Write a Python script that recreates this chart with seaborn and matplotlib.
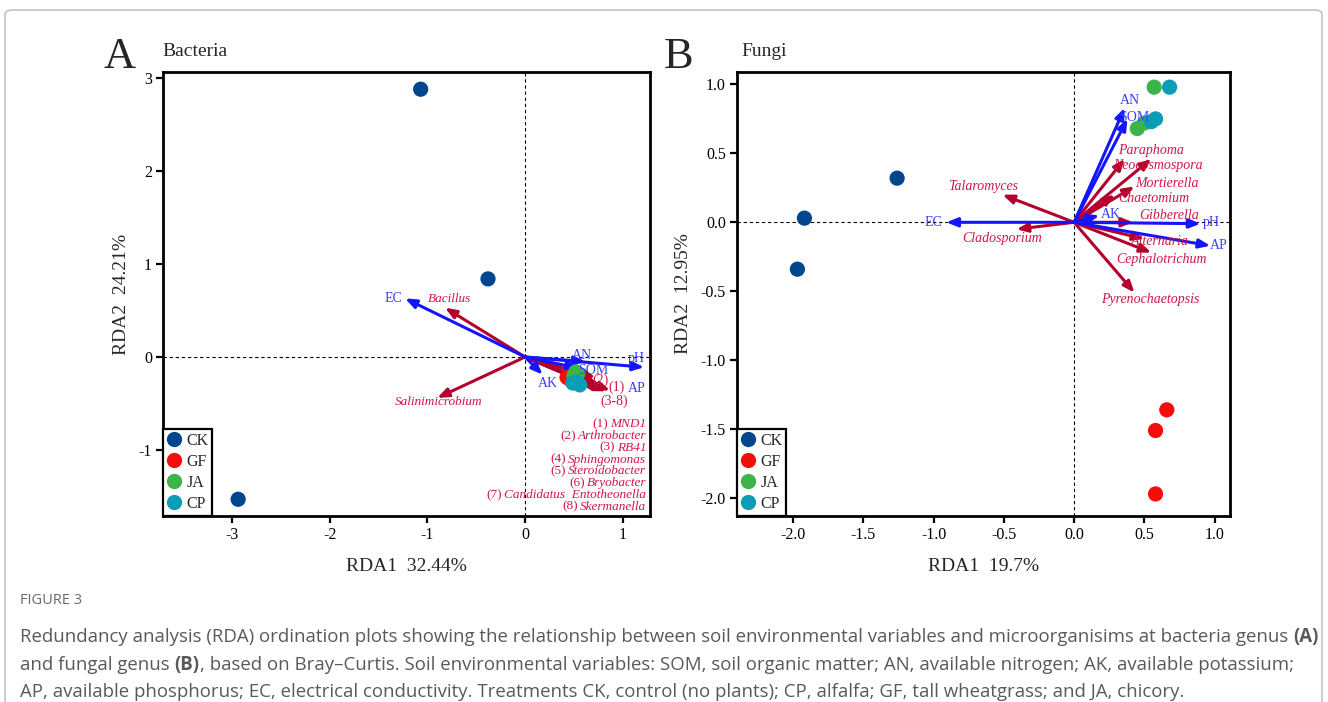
import numpy as np
import pandas as pd
import matplotlib
matplotlib.use("Agg")
import matplotlib.pyplot as plt
from matplotlib.lines import Line2D
from matplotlib.patches import FancyBboxPatch
import seaborn as sns

# ---------------- data: bacteria (panel A) ----------------
groups = ["CK", "GF", "JA", "CP"]
bact_x = {
    "CK": [-1.07, -0.38, -2.94],
    "GF": [0.43, 0.46, 0.49],
    "JA": [0.52, 0.54, 0.50],
    "CP": [0.49, 0.53, 0.56],
}
bact_y = {
    "CK": [2.88, 0.84, -1.53],
    "GF": [-0.22, -0.24, -0.26],
    "JA": [-0.16, -0.18, -0.20],
    "CP": [-0.28, -0.27, -0.30],
}
bact_env = ["EC", "AN", "pH", "AP", "AK", "SOM"]
bact_env_x = [-1.23, 0.62, 1.22, 1.30, 0.18, 0.55]
bact_env_y = [0.63, -0.05, -0.11, -0.26, -0.19, -0.12]
bact_taxa = ["Bacillus", "Salinimicrobium", "MND1", "Arthrobacter", "RB41",
             "Sphingomonas", "Steroidobacter", "Bryobacter",
             "Candidatus  Entotheonella", "Skermanella"]
bact_taxa_x = [-0.82, -0.90, 0.87, 0.72, 0.82, 0.78, 0.80, 0.75, 0.83, 0.79]
bact_taxa_y = [0.53, -0.44, -0.36, -0.22, -0.36, -0.33, -0.35, -0.30, -0.37, -0.34]

# ---------------- data: fungi (panel B) ----------------
fung_x = {
    "CK": [-1.92, -1.26, -1.97],
    "GF": [0.66, 0.58, 0.58],
    "JA": [0.57, 0.45, 0.50],
    "CP": [0.68, 0.58, 0.55],
}
fung_y = {
    "CK": [0.03, 0.32, -0.34],
    "GF": [-1.36, -1.51, -1.97],
    "JA": [0.98, 0.68, 0.72],
    "CP": [0.98, 0.75, 0.73],
}
fung_env = ["EC", "AN", "SOM", "AK", "pH", "AP"]
fung_env_x = [-0.91, 0.36, 0.38, 0.18, 0.90, 0.97]
fung_env_y = [0.00, 0.83, 0.75, 0.05, -0.01, -0.17]
fung_taxa = ["Paraphoma", "Neocosmospora", "Mortierella", "Chaetomium",
             "Gibberella", "Alternaria", "Cephalotrichum", "Pyrenochaetopsis",
             "Talaromyces", "Cladosporium"]
fung_taxa_x = [0.36, 0.55, 0.43, 0.29, 0.42, 0.50, 0.55, 0.43, -0.51, -0.41]
fung_taxa_y = [0.46, 0.46, 0.26, 0.20, 0.00, -0.12, -0.22, -0.51, 0.20, -0.05]

# ---------------- styling ----------------
palette = {"CK": "#00468f", "GF": "#f30d0d", "JA": "#3cb44a", "CP": "#0b9db6"}
BLUE_ARROW = "#1414ff"
BLUE_TEXT = "#3b3bff"
RED_ARROW = "#b3002c"
RED_TEXT = "#d2154a"
SERIF = "Liberation Serif"

sns.set_theme(style="white")
plt.rcParams["font.family"] = [SERIF, "DejaVu Serif"]
plt.rcParams["axes.unicode_minus"] = False

fig = plt.figure(figsize=(13.28, 7.02), dpi=100)
W, H = 1328, 702


def px_axes(l, t, r, b):
    return fig.add_axes([l / W, 1 - b / H, (r - l) / W, (b - t) / H])


axA = px_axes(163, 72, 650, 516)
axB = px_axes(737, 72, 1230, 516)


def frame(df_x, df_y):
    rows = []
    for g in groups:
        for x, y in zip(df_x[g], df_y[g]):
            rows.append({"RDA1": x, "RDA2": y, "group": g})
    return pd.DataFrame(rows)


def arrow(ax, x, y, color):
    ax.annotate("", xy=(x, y), xytext=(0, 0), xycoords="data",
                arrowprops=dict(arrowstyle="-|>,head_length=0.55,head_width=0.22",
                                color=color, lw=2.2, shrinkA=0, shrinkB=0,
                                mutation_scale=12), zorder=3)


def style_axes(ax):
    for s in ax.spines.values():
        s.set_linewidth(2.0)
        s.set_color("black")
    ax.tick_params(direction="out", length=5, width=1.6, labelsize=11.5,
                   pad=3, colors="black", left=True, bottom=True)
    ax.axhline(0, color="black", lw=0.8, ls=(0, (3, 2.5)), zorder=1)
    ax.axvline(0, color="black", lw=0.8, ls=(0, (3, 2.5)), zorder=1)


def add_legend(ax):
    handles = [Line2D([], [], marker="o", ls="", markersize=11,
                      markerfacecolor=palette[g], markeredgecolor="none", label=g)
               for g in groups]
    leg = ax.legend(handles=handles, loc="lower left", borderaxespad=0,
                    frameon=True, fancybox=False, framealpha=1,
                    edgecolor="black", fontsize=11.5, handlelength=0.9,
                    handletextpad=0.3, labelspacing=0.32, borderpad=0.25)
    leg.get_frame().set_linewidth(1.6)
    leg.set_zorder(6)


# ---------------- panel A ----------------
dfA = frame(bact_x, bact_y)
sns.scatterplot(data=dfA, x="RDA1", y="RDA2", hue="group", palette=palette,
                s=120, edgecolor="none", legend=False, ax=axA, zorder=4)
for x, y in zip(bact_taxa_x, bact_taxa_y):
    arrow(axA, x, y, RED_ARROW)
for x, y in zip(bact_env_x, bact_env_y):
    arrow(axA, x, y, BLUE_ARROW)

env_lab_A = {"EC": (-1.35, 0.63), "AN": (0.58, 0.02), "pH": (1.14, -0.02),
             "AP": (1.14, -0.34), "AK": (0.23, -0.29), "SOM": (0.70, -0.14)}
for name in bact_env:
    lx, ly = env_lab_A[name]
    axA.text(lx, ly, name, color=BLUE_TEXT, fontsize=10, ha="center", va="center", zorder=5)

axA.text(-0.77, 0.62, "Bacillus", color=RED_TEXT, fontsize=9.5, style="italic",
         ha="center", va="center", zorder=5)
axA.text(-0.89, -0.48, "Salinimicrobium", color=RED_TEXT, fontsize=9.5,
         style="italic", ha="center", va="center", zorder=5)
for t, (lx, ly) in zip(["(2)", "(1)", "(3-8)"],
                       [(0.77, -0.255), (0.94, -0.33), (0.91, -0.48)]):
    axA.text(lx, ly, t, color=RED_TEXT, fontsize=10, ha="center", va="center", zorder=5)

axA.set_xlim(-3.71, 1.28)
axA.set_ylim(-1.71, 3.065)
axA.set_xticks([-3, -2, -1, 0, 1])
axA.set_yticks([-1, 0, 1, 2, 3])
style_axes(axA)
axA.set_xlabel("RDA1  32.44%", fontsize=14, labelpad=11)
axA.set_ylabel("RDA2  24.21%", fontsize=14, labelpad=6)
add_legend(axA)

# ---------------- panel B ----------------
dfB = frame(fung_x, fung_y)
sns.scatterplot(data=dfB, x="RDA1", y="RDA2", hue="group", palette=palette,
                s=120, edgecolor="none", legend=False, ax=axB, zorder=4)
for x, y in zip(fung_taxa_x, fung_taxa_y):
    arrow(axB, x, y, RED_ARROW)
for x, y in zip(fung_env_x, fung_env_y):
    arrow(axB, x, y, BLUE_ARROW)

env_lab_B = {"EC": (-1.0, 0.0), "AN": (0.40, 0.88), "SOM": (0.43, 0.76),
             "AK": (0.26, 0.06), "pH": (0.98, 0.0), "AP": (1.03, -0.17)}
for name in fung_env:
    lx, ly = env_lab_B[name]
    axB.text(lx, ly, name, color=BLUE_TEXT, fontsize=10, ha="center", va="center",
             zorder=5)
taxa_lab_B = [(0.55, 0.52), (0.60, 0.41), (0.66, 0.28), (0.57, 0.17), (0.675, 0.05),
              (0.61, -0.14), (0.62, -0.27), (0.54, -0.56), (-0.65, 0.26), (-0.51, -0.12)]
for name, (lx, ly) in zip(fung_taxa, taxa_lab_B):
    axB.text(lx, ly, name, color=RED_TEXT, fontsize=10, style="italic",
             ha="center", va="center", zorder=5)

axB.set_xlim(-2.40, 1.11)
axB.set_ylim(-2.13, 1.09)
axB.set_xticks(np.arange(-2.0, 1.01, 0.5))
axB.set_yticks(np.arange(-2.0, 1.01, 0.5))
axB.xaxis.set_major_formatter(matplotlib.ticker.FormatStrFormatter("%.1f"))
axB.yaxis.set_major_formatter(matplotlib.ticker.FormatStrFormatter("%.1f"))
style_axes(axB)
axB.set_xlabel("RDA1  19.7%", fontsize=14, labelpad=11)
axB.set_ylabel("RDA2  12.95%", fontsize=14, labelpad=6)
add_legend(axB)

# panel letters and titles
fig.text(104 / W, 1 - 57 / H, "A", fontsize=32, va="center", ha="left")
fig.text(162 / W, 1 - 52 / H, "Bacteria", fontsize=14, va="center", ha="left")
fig.text(664 / W, 1 - 57 / H, "B", fontsize=32, va="center", ha="left")
fig.text(741 / W, 1 - 52 / H, "Fungi", fontsize=14, va="center", ha="left")

# outer card border
fig.patches.append(FancyBboxPatch((5 / W, -20 / H), 1317 / W, (697 + 20 - 5) / H,
                                  boxstyle="round,pad=0,rounding_size=0.006",
                                  transform=fig.transFigure, fill=False,
                                  edgecolor="#b8b8b8", lw=1.0))

fig.canvas.draw()
renderer = fig.canvas.get_renderer()

# numbered taxon key in panel A: number upright, genus italic, right aligned
key_y0 = 0.207
key_dy = 0.0266
for i, name in enumerate(bact_taxa[2:]):
    yy = key_y0 - i * key_dy
    t = axA.text(0.992, yy, name, transform=axA.transAxes, color=RED_TEXT,
                 fontsize=9.5, style="italic", ha="right", va="center", zorder=5)
    bb = t.get_window_extent(renderer)
    xl = axA.transAxes.inverted().transform((bb.x0, bb.y0))[0]
    axA.text(xl - 0.004, yy, f"({i + 1})", transform=axA.transAxes, color=RED_TEXT,
             fontsize=9.5, ha="right", va="center", zorder=5)

# caption
CAP_FONT = ["Open Sans", "DejaVu Sans"]
CAP_COLOR = "#595959"
fig.text(20 / W, 1 - 601 / H, "FIGURE 3", fontsize=10.5, color="#6a6a6a",
         family=CAP_FONT, va="center", ha="left")

cap_lines = [
    [("Redundancy analysis (RDA) ordination plots showing the relationship between soil "
      "environmental variables and microorganisims at bacteria genus ", "normal"),
     ("(A)", "bold")],
    [("and fungal genus ", "normal"), ("(B)", "bold"),
     (", based on Bray\u2013Curtis. Soil environmental variables: SOM, soil organic matter; "
      "AN, available nitrogen; AK, available potassium;", "normal")],
    [("AP, available phosphorus; EC, electrical conductivity. Treatments CK, control "
      "(no plants); CP, alfalfa; GF, tall wheatgrass; and JA, chicory.", "normal")],
]
cap_y = [637, 665, 692]
for line, ypx in zip(cap_lines, cap_y):
    xpx = 20
    for txt, wt in line:
        t = fig.text(xpx / W, 1 - ypx / H, txt, fontsize=13.4, color=CAP_COLOR,
                     family=CAP_FONT, weight=wt, va="center", ha="left")
        bb = t.get_window_extent(renderer)
        xpx = bb.x1

fig.savefig("out.png", dpi=100)
